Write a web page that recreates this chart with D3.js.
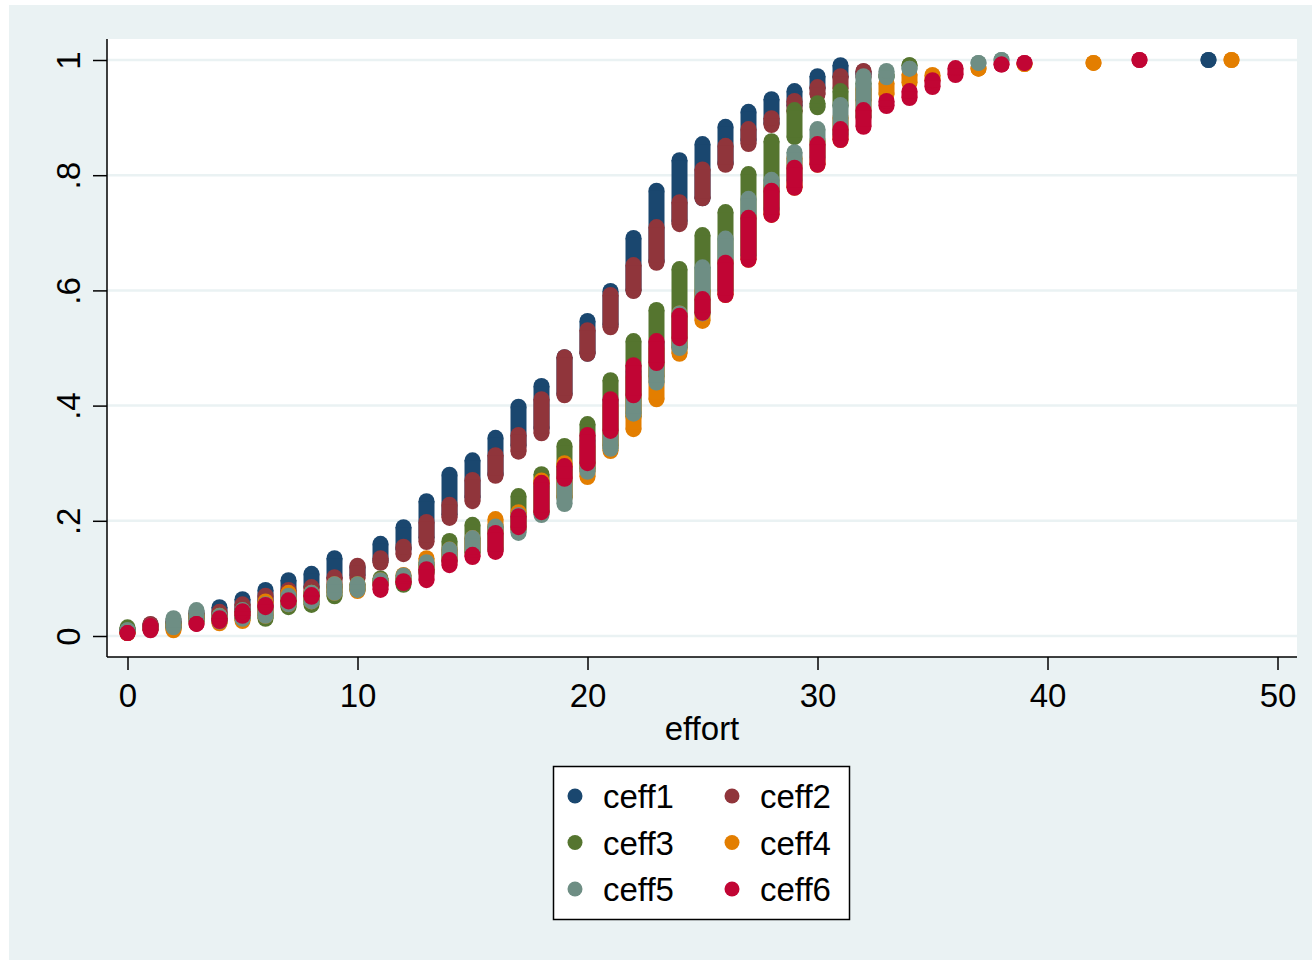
<!DOCTYPE html>
<html>
<head>
<meta charset="utf-8">
<script src="https://cdn.jsdelivr.net/npm/d3@7"></script>
<style>
  body { margin: 0; background: #fff; }
  svg { display: block; font-family: Arial, "Liberation Sans", sans-serif; }
</style>
</head>
<body>
<svg width="1312" height="960"></svg>
<script>
// each entry: [effort, lowest value, highest value] of the stacked dots
let ceff1 = [[0,.01,.01],[1,.012,.02],[2,.015,.025],[3,.03,.04],[4,.035,.05],[5,.045,.064],[6,.06,.08],[7,.07,.097],[8,.085,.108],[9,.1,.135],[10,.105,.12],[11,.13,.16],[12,.15,.189],[13,.17,.234],[14,.21,.28],[15,.24,.305],[16,.28,.344],[17,.33,.398],[18,.36,.434],[19,.42,.484],[20,.49,.547],[21,.54,.599],[22,.6,.691],[23,.65,.773],[24,.72,.826],[25,.76,.854],[26,.82,.884],[27,.86,.91],[28,.89,.932],[29,.92,.946],[30,.95,.972],[31,.97,.991],[32,.975,.98],[47,1,1]];
let ceff2 = [[0,.01,.01],[1,.012,.021],[2,.015,.025],[3,.03,.04],[4,.03,.042],[5,.04,.055],[6,.05,.07],[7,.06,.08],[8,.07,.085],[9,.085,.102],[10,.1,.122],[11,.127,.135],[12,.142,.155],[13,.163,.198],[14,.205,.228],[15,.234,.271],[16,.278,.314],[17,.32,.349],[18,.352,.411],[19,.418,.484],[20,.49,.531],[21,.536,.592],[22,.599,.644],[23,.648,.71],[24,.715,.753],[25,.76,.81],[26,.818,.851],[27,.854,.88],[28,.887,.899],[29,.91,.929],[30,.94,.953],[31,.95,.972],[32,.97,.981]];
let ceff3 = [[0,.005,.015],[1,.012,.018],[2,.015,.022],[3,.025,.035],[4,.025,.035],[5,.03,.045],[6,.03,.05],[7,.05,.065],[8,.054,.075],[9,.069,.085],[10,.08,.09],[11,.09,.1],[12,.089,.1],[13,.11,.125],[14,.13,.165],[15,.145,.193],[16,.15,.19],[17,.185,.243],[18,.215,.281],[19,.24,.33],[20,.29,.368],[21,.33,.444],[22,.38,.512],[23,.45,.566],[24,.5,.637],[25,.56,.696],[26,.6,.736],[27,.66,.802],[28,.74,.859],[29,.866,.913],[30,.918,.925],[31,.92,.946],[32,.93,.96],[33,.97,.975],[34,.991,.991]];
let ceff4 = [[0,.005,.005],[1,.012,.015],[2,.01,.02],[3,.025,.035],[4,.022,.035],[5,.026,.04],[6,.035,.06],[7,.055,.075],[8,.06,.075],[9,.075,.09],[10,.078,.09],[11,.09,.097],[12,.095,.106],[13,.11,.135],[14,.13,.15],[15,.145,.17],[16,.15,.203],[17,.185,.215],[18,.215,.27],[19,.24,.3],[20,.276,.33],[21,.321,.4],[22,.359,.45],[23,.411,.5],[24,.49,.56],[25,.547,.6],[26,.592,.65],[27,.653,.73],[28,.731,.78],[29,.778,.83],[30,.818,.86],[31,.861,.9],[32,.9,.95],[33,.94,.96],[34,.96,.975],[35,.965,.974],[37,.985,.985],[39,.993,.993],[42,.995,.995],[48,1,1]];
let ceff5 = [[0,.01,.01],[1,.012,.018],[2,.015,.031],[3,.025,.045],[4,.025,.035],[5,.03,.045],[6,.035,.055],[7,.055,.07],[8,.06,.075],[9,.075,.09],[10,.08,.09],[11,.09,.097],[12,.095,.105],[13,.11,.128],[14,.13,.15],[15,.145,.17],[16,.15,.19],[17,.179,.21],[18,.21,.26],[19,.229,.29],[20,.285,.34],[21,.325,.41],[22,.386,.46],[23,.44,.51],[24,.5,.56],[25,.56,.64],[26,.6,.69],[27,.66,.759],[28,.74,.792],[29,.79,.84],[30,.83,.88],[31,.87,.922],[32,.9,.972],[33,.97,.981],[34,.985,.985],[37,.995,.995],[38,1,1]];
let ceff6 = [[0,.005,.005],[1,.01,.018],[3,.021,.021],[4,.026,.031],[5,.035,.043],[6,.05,.054],[7,.06,.062],[8,.068,.071],[11,.08,.089],[12,.092,.095],[13,.097,.116],[14,.123,.132],[15,.137,.141],[16,.146,.179],[17,.189,.208],[18,.215,.266],[19,.273,.295],[20,.3,.349],[21,.356,.411],[22,.418,.47],[23,.474,.512],[24,.517,.556],[25,.561,.585],[26,.592,.648],[27,.653,.726],[28,.731,.773],[29,.778,.813],[30,.818,.854],[31,.861,.88],[32,.884,.913],[33,.92,.929],[34,.934,.946],[35,.953,.965],[36,.974,.986],[38,.992,.992],[39,.995,.995],[44,1,1]];

let seriesNames = ["ceff1", "ceff2", "ceff3", "ceff4", "ceff5", "ceff6"];
let seriesData = [ceff1, ceff2, ceff3, ceff4, ceff5, ceff6];
let seriesColors = ["#1a476f", "#90353b", "#55752f", "#e37e00", "#6e8e84", "#c10534"];
let xTicks = [0, 10, 20, 30, 40, 50];
let yTicks = [0, .2, .4, .6, .8, 1];
let yTickLabels = ["0", ".2", ".4", ".6", ".8", "1"];

let svg = d3.select("svg");
let r = 8;
let fontSize = 33;

// graph region and plot region
svg.append("rect").attr("x", 9).attr("y", 5).attr("width", 1303).attr("height", 955).attr("fill", "#eaf2f3");
svg.append("rect").attr("x", 107).attr("y", 39).attr("width", 1190).attr("height", 618).attr("fill", "#fff");

let x = d3.scaleLinear().domain([0, 50]).range([127.5, 1277.5]);
let y = d3.scaleLinear().domain([0, 1]).range([636, 60]);

// gridlines
svg.append("g")
    .selectAll("line")
    .data(yTicks)
    .enter()
    .append("line")
    .attr("x1", 107)
    .attr("x2", 1297)
    .attr("y1", (d) => y(d))
    .attr("y2", (d) => y(d))
    .attr("stroke", "#eaf2f3")
    .attr("stroke-width", 2.5);

// points: each run of overlapping dots drawn as a capsule
seriesData.forEach((data, i) => {
    let g = svg.append("g").attr("fill", seriesColors[i]);
    let stack = g.selectAll("g").data(data).enter().append("g");
    stack.append("circle").attr("cx", (d) => x(d[0])).attr("cy", (d) => y(d[1])).attr("r", r);
    stack.append("circle").attr("cx", (d) => x(d[0])).attr("cy", (d) => y(d[2])).attr("r", r);
    stack.append("rect")
        .attr("x", (d) => x(d[0]) - r)
        .attr("y", (d) => y(d[2]))
        .attr("width", 2 * r)
        .attr("height", (d) => y(d[1]) - y(d[2]));
});

// axes
let xAxis = svg.append("g")
    .attr("transform", "translate(0,657)")
    .call(d3.axisBottom(x).tickValues(xTicks).tickSize(13).tickPadding(14).tickFormat(d3.format("d")));
xAxis.select(".domain").attr("d", "M107,0H1297").attr("stroke", "#000").attr("stroke-width", 1.5);
xAxis.selectAll(".tick line").attr("stroke", "#000").attr("stroke-width", 1.5);
xAxis.selectAll(".tick text").attr("font-size", fontSize).attr("font-family", "Arial, 'Liberation Sans', sans-serif").attr("fill", "#000");

let yAxis = svg.append("g")
    .attr("transform", "translate(107,0)")
    .call(d3.axisLeft(y).tickValues(yTicks).tickSize(14).tickFormat((d, i) => yTickLabels[i]));
yAxis.select(".domain").attr("d", "M0,39V657").attr("stroke", "#000").attr("stroke-width", 1.5);
yAxis.selectAll(".tick line").attr("stroke", "#000").attr("stroke-width", 1.5);
yAxis.selectAll(".tick text")
    .attr("x", null).attr("dy", null)
    .attr("transform", "translate(-27,0) rotate(-90)")
    .attr("text-anchor", "middle")
    .attr("font-size", fontSize)
    .attr("font-family", "Arial, 'Liberation Sans', sans-serif")
    .attr("fill", "#000");

svg.append("text")
    .attr("x", 702)
    .attr("y", 740)
    .attr("text-anchor", "middle")
    .attr("font-size", fontSize)
    .text("effort");

// legend
let legend = svg.append("g");
legend.append("rect")
    .attr("x", 553.5).attr("y", 766.5).attr("width", 296).attr("height", 153)
    .attr("fill", "#fff").attr("stroke", "#000").attr("stroke-width", 1.5);
let items = legend.selectAll("g.item")
    .data(seriesNames)
    .enter()
    .append("g")
    .attr("class", "item")
    .attr("transform", (d, i) => `translate(${i % 2 ? 732 : 575},${796 + Math.floor(i / 2) * 46.5})`);
items.append("circle").attr("r", 7.5).attr("fill", (d, i) => seriesColors[i]);
items.append("text")
    .attr("x", 28)
    .attr("y", 12)
    .attr("font-size", fontSize)
    .text((d) => d);
</script>
</body>
</html>
